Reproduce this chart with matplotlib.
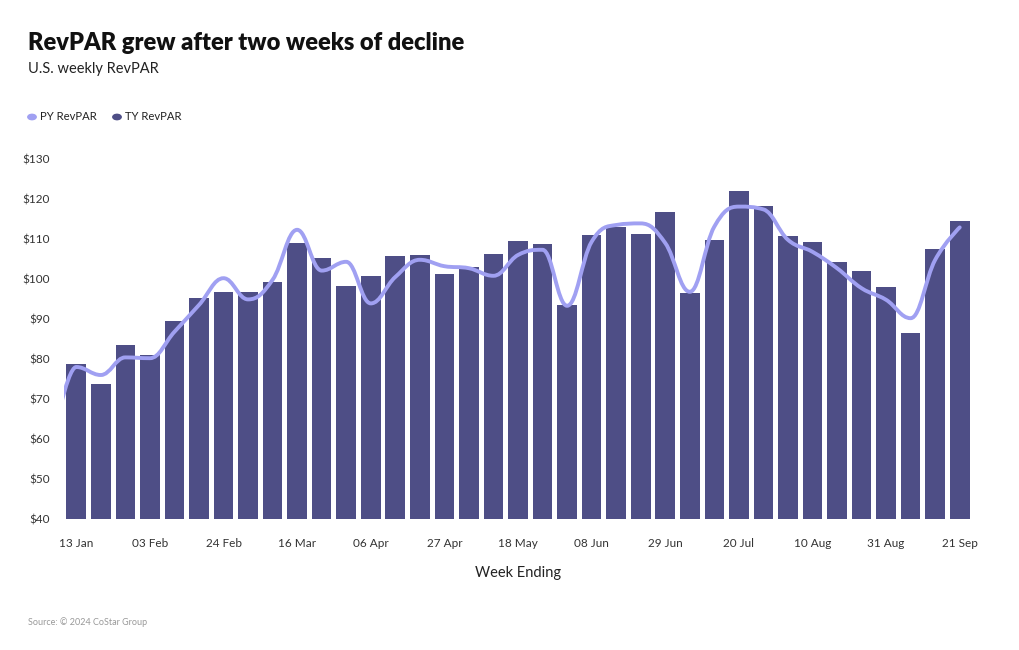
import matplotlib

matplotlib.use("Agg")
import matplotlib.pyplot as plt
import numpy as np
from matplotlib.path import Path
from matplotlib.patches import PathPatch

plt.rcParams["font.family"] = ["Lato", "DejaVu Sans"]

# ── data ──────────────────────────────────────────────────────────────
weeks = [
    "13 Jan", "20 Jan", "27 Jan", "03 Feb", "10 Feb", "17 Feb", "24 Feb",
    "02 Mar", "09 Mar", "16 Mar", "23 Mar", "30 Mar", "06 Apr", "13 Apr",
    "20 Apr", "27 Apr", "04 May", "11 May", "18 May", "25 May", "01 Jun",
    "08 Jun", "15 Jun", "22 Jun", "29 Jun", "06 Jul", "13 Jul", "20 Jul",
    "27 Jul", "03 Aug", "10 Aug", "17 Aug", "24 Aug", "31 Aug", "07 Sep",
    "14 Sep", "21 Sep",
]
ty_revpar = [
    78.7, 73.8, 83.4, 81.0, 89.5, 95.2, 96.8, 96.7, 99.2, 108.9, 105.3, 98.2,
    100.8, 105.8, 106.0, 101.2, 103.1, 106.2, 109.6, 108.7, 93.5, 110.9, 112.9,
    111.3, 116.8, 96.6, 109.8, 122.0, 118.2, 110.8, 109.3, 104.2, 102.0, 98.0,
    86.4, 107.4, 114.5,
]
# prior-year series carries one extra week before the window (clipped at the edge)
py_revpar = [
    58.0, 78.0, 76.0, 80.4, 80.2, 86.8, 93.5, 100.2, 94.9, 99.8, 112.3, 102.1,
    104.3, 93.9, 100.5, 104.8, 103.2, 102.7, 100.8, 106.0, 107.3, 93.3, 109.3,
    113.5, 113.9, 109.0, 96.8, 113.1, 118.1, 117.4, 109.8, 106.8, 102.7, 97.7,
    94.8, 90.2, 104.8, 112.9,
]
yticks = [40, 50, 60, 70, 80, 90, 100, 110, 120, 130]

BAR_COLOR = "#4e4e86"
LINE_COLOR = "#a0a0f2"


def spline_path(xs, ys, smoothing=1.5):
    """Bezier spline through the points, extrema clamped at the points."""
    n = len(xs)
    left = [(xs[i], ys[i]) for i in range(n)]
    right = [(xs[i], ys[i]) for i in range(n)]
    denom = smoothing + 1
    for i in range(1, n - 1):
        x, y = xs[i], ys[i]
        lx, ly = xs[i - 1], ys[i - 1]
        nx, ny = xs[i + 1], ys[i + 1]
        lcx = (smoothing * x + lx) / denom
        lcy = (smoothing * y + ly) / denom
        rcx = (smoothing * x + nx) / denom
        rcy = (smoothing * y + ny) / denom
        corr = 0.0
        if rcx != lcx:
            corr = (rcy - lcy) * (rcx - x) / (rcx - lcx) + y - rcy
        lcy += corr
        rcy += corr
        if lcy > ly and lcy > y:
            lcy = max(ly, y)
            rcy = 2 * y - lcy
        elif lcy < ly and lcy < y:
            lcy = min(ly, y)
            rcy = 2 * y - lcy
        if rcy > ny and rcy > y:
            rcy = max(ny, y)
            lcy = 2 * y - rcy
        elif rcy < ny and rcy < y:
            rcy = min(ny, y)
            lcy = 2 * y - rcy
        left[i] = (lcx, lcy)
        right[i] = (rcx, rcy)
    verts = [(xs[0], ys[0])]
    codes = [Path.MOVETO]
    for i in range(1, n):
        verts += [right[i - 1], left[i], (xs[i], ys[i])]
        codes += [Path.CURVE4] * 3
    return Path(verts, codes)


fig = plt.figure(figsize=(10.2, 6.5), dpi=100)
ax = fig.add_axes([64 / 1020, 131 / 650, 908 / 1020, 360 / 650])

x = np.arange(len(weeks))
ax.bar(x, np.array(ty_revpar) - 40, bottom=40, width=0.8, color=BAR_COLOR, zorder=2)

px = np.arange(len(py_revpar)) - 1.0
patch = PathPatch(spline_path(px, py_revpar), fill=False, edgecolor=LINE_COLOR,
                  lw=2.8, capstyle="round", joinstyle="round", zorder=3)
ax.add_patch(patch)

ax.set_xlim(-0.5, len(weeks) - 0.5)
ax.set_ylim(40, 130)
ax.set_yticks(yticks)
ax.set_yticklabels([f"${v}" for v in yticks])
ax.set_xticks(x[::3])
ax.set_xticklabels(weeks[::3])
ax.tick_params(axis="both", length=0, labelsize=8.5, colors="#333333")
ax.tick_params(axis="y", pad=10)
ax.tick_params(axis="x", pad=14)
for s in ax.spines.values():
    s.set_visible(False)
ax.set_xlabel("Week Ending", fontsize=10.5, color="#222222", labelpad=12)

fig.text(28 / 1020, 1 - 43 / 650, "RevPAR grew after two weeks of decline",
         fontsize=17, fontweight="heavy", color="#111111", va="center")
fig.text(28 / 1020, 1 - 69 / 650, "U.S. weekly RevPAR", fontsize=10.5,
         color="#222222", va="center")

# legend
for cx, label, col in [(32, "PY RevPAR", LINE_COLOR), (117, "TY RevPAR", BAR_COLOR)]:
    fig.patches.append(matplotlib.patches.Circle(
        (cx / 1020, 1 - 117 / 650), 4.2 / 1020, transform=fig.transFigure,
        color=col, figure=fig))
    fig.text((cx + 8) / 1020, 1 - 117 / 650, label, fontsize=8.1,
             color="#222222", va="center")

fig.text(28 / 1020, 1 - 622 / 650, "Source: © 2024 CoStar Group", fontsize=6.5,
         color="#999999", va="center")

fig.savefig("out.png", dpi=100)
